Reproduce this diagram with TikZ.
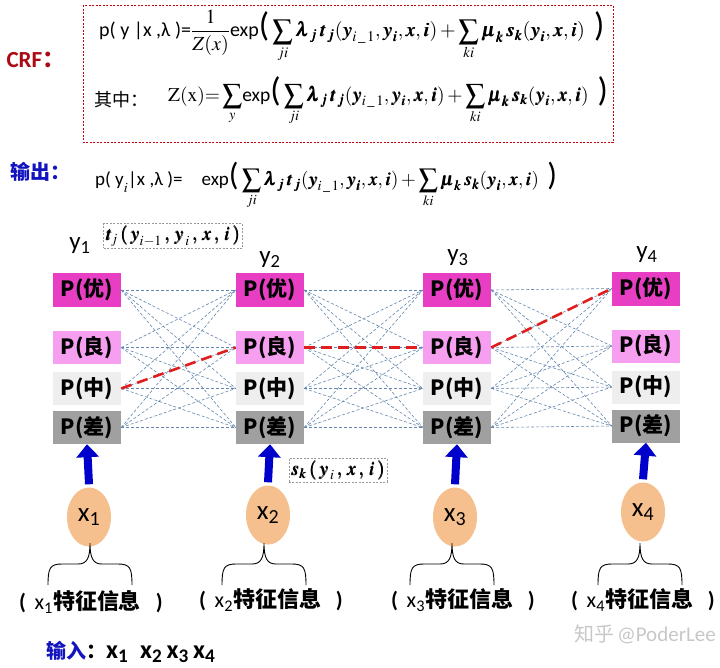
\documentclass[tikz,border=0pt]{standalone}
\usepackage{amsmath}
\usepackage{mathptmx}
\usepackage{bm}
\usepackage[no-math]{fontspec}
\setmainfont{Carlito}
\newfontfamily\cjk{Noto Sans CJK SC}
\usetikzlibrary{arrows.meta,shapes.geometric}

\definecolor{youC}{RGB}{232,62,196}
\definecolor{liangC}{RGB}{246,158,240}
\definecolor{zhongC}{RGB}{238,238,238}
\definecolor{chaC}{RGB}{160,160,160}
\definecolor{linkC}{RGB}{100,135,175}
\definecolor{pathC}{RGB}{225,30,30}
\definecolor{crfC}{RGB}{170,10,20}
\definecolor{outC}{RGB}{20,20,190}
\definecolor{peach}{RGB}{246,192,142}
\definecolor{arrowC}{RGB}{0,0,205}
\definecolor{markC}{RGB}{200,200,200}

\newcommand\fs[1]{\fontsize{#1}{#1}\selectfont}
\newcommand\sub[1]{\textsubscript{#1}}
% the sums shared by the three formulas
\newcommand\potsum{$\displaystyle\sum_{ji}\bm{\lambda_j\, t_j}(\bm{y_{i\,\_\,1}},\bm{y_i},\bm{x},\bm{i})+\sum_{ki}\bm{\mu_k\, s_k}(\bm{y_i},\bm{x},\bm{i})$}
% feature caption under an observation
\newcommand\featcap[1]{\textbf{(}\ \,x\sub{#1}{\cjk\bfseries 特征信息}\ \ \ \textbf{)}}

\tikzset{
  statebox/.style={minimum width=68pt, minimum height=33pt, inner sep=0pt,
    font=\cjk\bfseries\fs{21}},
  link/.style={linkC, line width=0.6pt, dash pattern=on 3pt off 2pt},
  bestpath/.style={pathC, line width=2.6pt, dash pattern=on 11pt off 6pt},
  feat/.style={ellipse, fill=peach, minimum width=44pt, minimum height=59pt,
    inner sep=0pt, font=\fs{27}},
  up/.style={arrowC, line width=8pt, -{Triangle[width=22pt,length=13pt]}},
  ylab/.style={font=\fs{25}},
  fbox/.style={draw=gray!80, dash pattern=on 2pt off 1.5pt, line width=0.6pt,
    inner sep=2pt},
  featlab/.style={font=\fs{22}, inner sep=1pt},
  brc/.style={line width=0.9pt},
}

\begin{document}
\begin{tikzpicture}[x=1pt, y=-1pt]
\useasboundingbox[fill=white] (0,0) rectangle (720,667);

% formula frame
\draw[crfC!70!red, line width=0.7pt, dash pattern=on 2pt off 1.5pt]
  (83,5) rectangle (613,142);
\node[anchor=west, text=crfC, font=\bfseries\fs{23}] (crf) at (3,60) {CRF{\cjk ：}};

% joint probability
\node[anchor=west, inner sep=0pt] (f1) at (99,36) {\fs{20}p( y |x ,λ )=%
  $\dfrac{1}{Z(x)}$exp{\fs{34}(}\,\potsum\ \ {\fs{34})}};
% normaliser
\node[anchor=west, inner sep=0pt, font=\cjk\fs{18}] (qz) at (94,100) {其中：};
\node[anchor=west, inner sep=0pt] (f2) at (168,101) {\fs{19.5}$\mathrm{Z(x)}{=}\displaystyle\sum_{y}$exp{\fs{34}(}\,\potsum\ \ {\fs{34})}};

% output
\node[anchor=west, text=outC, font=\cjk\bfseries\fs{20}] (outl) at (7,172) {输出：};
\node[anchor=west, inner sep=0pt] (f3) at (95,186) {\fs{19}p( y$_{\raisebox{-4pt}{$\scriptstyle i$}}$|x ,λ )=\quad exp{\fs{32}(}\,\potsum\ \ {\fs{32})}};

\node[fbox] (tj) at (173,236) {\fs{19}$\bm{t_{\!j}\,(\,y_{i-1}\,,\,y_{\,i}\,,\,x\,,\,i\,)}$};

% labels of the state columns
\node[ylab] (y1) at (80,246) {y\sub{1}};
\node[ylab] (y2) at (270,260) {y\sub{2}};
\node[ylab] (y3) at (458,258) {y\sub{3}};
\node[ylab] (y4) at (647,255) {y\sub{4}};

% state boxes: column c, row r
\foreach \c/\x/\dy in {1/87/0, 2/270/0, 3/457/0, 4/646/-1.5} {
  \node[statebox, fill=youC,   minimum height=34pt] (n\c-1) at (\x,290+\dy) {P(优)};
  \node[statebox, fill=liangC] (n\c-2) at (\x,347.5+\dy) {P(良)};
  \node[statebox, fill=zhongC] (n\c-3) at (\x,388.5+\dy) {P(中)};
  \node[statebox, fill=chaC]   (n\c-4) at (\x,427.5+\dy) {P(差)};
}

% transitions between neighbouring columns
\foreach \c in {1,2,3} {
  \pgfmathtruncatemacro{\d}{\c+1}
  \foreach \r in {1,...,4} {
    \foreach \s in {1,...,4} {
      \draw[link] (n\c-\r.east) -- (n\d-\s.west);
    }
  }
}

% best label sequence
\draw[bestpath] (n1-3.east) -- (n2-2.west);
\draw[bestpath] (n2-2.east) -- (n3-2.west);
\draw[bestpath] (n3-2.east) -- (n4-1.west);

% observations
\node[feat] (x1) at (89,517) {x\sub{1}};
\node[feat] (x2) at (268,515) {x\sub{2}};
\node[feat] (x3) at (455,517) {x\sub{3}};
\node[feat] (x4) at (643,512) {x\sub{4}};

\foreach \i in {1,...,4} {
  \draw[up] ([yshift=3pt]x\i.north) -- (n\i-4.south);
}

\node[fbox] (sk) at (338,470) {\fs{19}$\bm{s_k\,(\,y_{\,i}\,,\,x\,,\,i\,)}$};

% braces under the observations
\foreach \cx in {90,264,452,640} {
  \draw[brc] (\cx-42,585) .. controls (\cx-42,568) and (\cx-40,564) .. (\cx-28,564)
    -- (\cx-12,564) .. controls (\cx-3,564) and (\cx,558) .. (\cx,543)
    .. controls (\cx,558) and (\cx+3,564) .. (\cx+12,564)
    -- (\cx+28,564) .. controls (\cx+40,564) and (\cx+42,568) .. (\cx+42,585);
}

\node[featlab] (l1) at (91,602) {\featcap{1}};
\node[featlab] (l2) at (271,600) {\featcap{2}};
\node[featlab] (l3) at (463,600) {\featcap{3}};
\node[featlab] (l4) at (643,600) {\featcap{4}};

% input line
\node[anchor=west, inner sep=0pt] (inp) at (46,652) {{\cjk\bfseries\fs{20}{\color{outC}输入}：}{\bfseries\fs{26}x\sub{1}\ \ x\sub{2}\,x\sub{3}\,x\sub{4}}};

\node[anchor=east, text=markC, inner sep=0pt] (mark) at (716,634) {{\cjk\fs{20}知乎}\ {\fs{21}@PoderLee}};
\end{tikzpicture}
\end{document}
